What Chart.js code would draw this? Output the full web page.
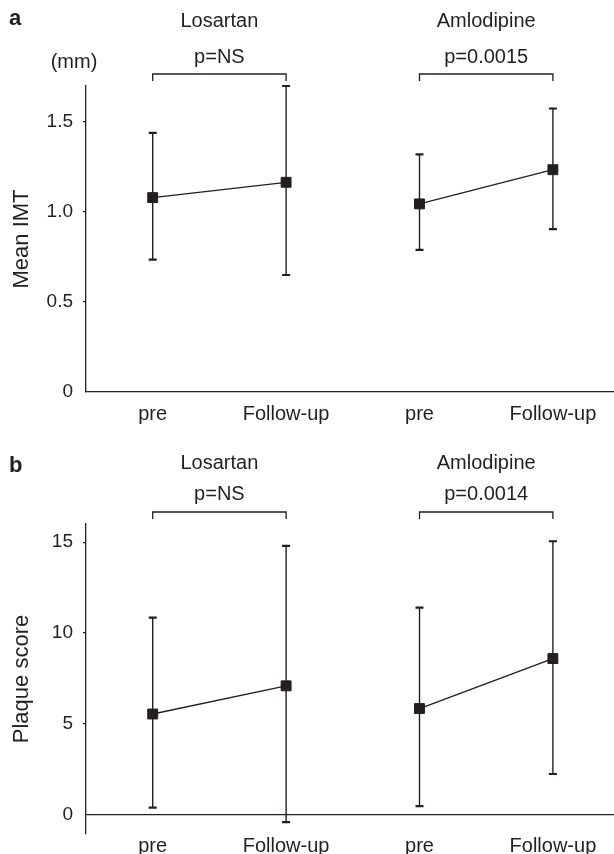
<!DOCTYPE html>
<html><head><meta charset="utf-8">
<script src="https://cdn.jsdelivr.net/npm/chart.js@4/dist/chart.umd.min.js"></script>
<style>
html,body{margin:0;padding:0;background:#fff;overflow:hidden}
#wrap{position:relative;width:614px;height:854px;background:#fff}
canvas{position:absolute;left:0}
</style></head><body>
<div id="wrap">
<canvas id="c1" width="614" height="427" style="top:0"></canvas>
<canvas id="c2" width="614" height="427" style="top:427px"></canvas>
</div>
<script>
// ---- data ----
const categories = ['pre', 'Follow-up', 'pre', 'Follow-up'];
const drugs = ['Losartan', 'Amlodipine'];

// Panel a: Mean IMT (mm)
const imtMean  = [1.08, 1.165, 1.045, 1.235];
const imtUpper = [1.44, 1.70, 1.32, 1.575];
const imtLower = [0.735, 0.65, 0.79, 0.905];
const imtP     = ['p=NS', 'p=0.0015'];
const imtTicks = [0, 0.5, 1.0, 1.5];

// Panel b: Plaque score
const plaqueMean  = [5.55, 7.1, 5.85, 8.6];
const plaqueUpper = [10.85, 14.8, 11.4, 15.05];
const plaqueLower = [0.4, -0.4, 0.48, 2.25];
const plaqueP     = ['p=NS', 'p=0.0014'];
const plaqueTicks = [0, 5, 10, 15];

// ---- styling ----
const INK = '#231f20';
const FONT = "'Liberation Sans', Arial, Helvetica, sans-serif";
Chart.defaults.font.family = FONT;
Chart.defaults.font.size = 20;
Chart.defaults.color = INK;

const errorBars = {
  id: 'errorBars',
  beforeDatasetsDraw(chart, args, opts) {
    const {ctx, scales: {x, y}} = chart;
    ctx.save();
    ctx.strokeStyle = INK;
    opts.upper.forEach((u, i) => {
      const px = x.getPixelForValue(i + 1);
      const yu = y.getPixelForValue(u);
      const yl = y.getPixelForValue(opts.lower[i]);
      ctx.lineWidth = 1.4;
      ctx.beginPath(); ctx.moveTo(px, yu); ctx.lineTo(px, yl); ctx.stroke();
      ctx.lineWidth = 2.2;
      ctx.beginPath();
      ctx.moveTo(px - 4, yu); ctx.lineTo(px + 4, yu);
      ctx.moveTo(px - 4, yl); ctx.lineTo(px + 4, yl);
      ctx.stroke();
    });
    ctx.restore();
  }
};

const annotations = {
  id: 'annotations',
  afterDraw(chart, args, o) {
    const {ctx, scales: {x}} = chart;
    ctx.save();
    ctx.fillStyle = INK;
    ctx.strokeStyle = INK;
    ctx.textBaseline = 'middle';
    ctx.font = 'bold 22px ' + FONT;
    ctx.textAlign = 'left';
    ctx.fillText(o.letter, 9, o.letterY);
    ctx.font = '20px ' + FONT;
    ctx.textAlign = 'center';
    drugs.forEach((d, g) => {
      const x1 = x.getPixelForValue(2 * g + 1);
      const x2 = x.getPixelForValue(2 * g + 2);
      const mid = (x1 + x2) / 2;
      ctx.fillText(d, mid, o.nameY);
      ctx.fillText(o.pvals[g], mid, o.pY);
      ctx.lineWidth = 1.3;
      ctx.beginPath();
      ctx.moveTo(x1, o.brY + 7); ctx.lineTo(x1, o.brY);
      ctx.lineTo(x2, o.brY); ctx.lineTo(x2, o.brY + 7);
      ctx.stroke();
    });
    if (o.unit) ctx.fillText(o.unit, 74, 62);
    ctx.restore();
  }
};

function makePanel(id, cfg) {
  const ds = drugs.map((d, g) => ({
    label: d,
    data: [0, 1].map(k => ({x: 2 * g + k + 1, y: cfg.mean[2 * g + k]})),
    borderColor: INK,
    backgroundColor: INK,
    borderWidth: 1.3,
    pointStyle: 'rect',
    pointRadius: 7,
    pointBorderWidth: 1,
    pointBackgroundColor: INK,
    pointBorderColor: INK,
    showLine: true,
    tension: 0
  }));
  return new Chart(document.getElementById(id), {
    type: 'scatter',
    data: {datasets: ds},
    plugins: [errorBars, annotations],
    options: {
      responsive: false,
      animation: false,
      layout: {autoPadding: false, padding: {left: 0, right: 0, top: cfg.top, bottom: 0}},
      plugins: {
        legend: {display: false},
        tooltip: {enabled: false},
        errorBars: {upper: cfg.upper, lower: cfg.lower},
        annotations: cfg.ann
      },
      scales: {
        x: {
          type: 'linear', min: 0.5, max: 4.458,
          afterFit(s) { s.height = cfg.xH; s.paddingLeft = 0; s.paddingRight = 0; },
          afterBuildTicks(s) { s.ticks = categories.map((c, i) => ({value: i + 1})); },
          ticks: {callback: v => categories[v - 1], padding: cfg.xPad, maxRotation: 0, autoSkip: false, font: {size: 20}},
          grid: {display: false, drawTicks: false},
          border: {display: cfg.xBorder, color: INK, width: 1.3}
        },
        y: {
          type: 'linear', min: cfg.min, max: cfg.max,
          afterFit(s) { s.width = 86; s.paddingTop = 0; s.paddingBottom = 0; },
          afterBuildTicks(s) { s.ticks = cfg.ticks.map(v => ({value: v})); },
          ticks: {callback: cfg.fmt, padding: 10, font: {size: 19}},
          title: {display: true, text: cfg.title, font: {size: 22}, padding: {top: 9, bottom: 0}},
          grid: {
            display: true,
            drawOnChartArea: cfg.zeroLine,
            drawTicks: true,
            tickLength: 3,
            lineWidth: 1.3,
            color: c => (c.tick && c.tick.value === 0) ? INK : 'rgba(0,0,0,0)',
            tickColor: c => (c.tick && c.tick.value === 0) ? 'rgba(0,0,0,0)' : INK,
            tickWidth: 1.2
          },
          border: {display: true, color: INK, width: 1.3}
        }
      }
    }
  });
}

makePanel('c1', {
  mean: imtMean, upper: imtUpper, lower: imtLower,
  ticks: imtTicks, min: 0, max: 1.7, fmt: v => v === 0 ? '0' : v.toFixed(1),
  title: 'Mean IMT', top: 86, xH: 35, xPad: 10, xBorder: true, zeroLine: false,
  ann: {letter: 'a', letterY: 19, nameY: 21, pY: 57, brY: 74, pvals: imtP, unit: '(mm)'}
});

makePanel('c2', {
  mean: plaqueMean, upper: plaqueUpper, lower: plaqueLower,
  ticks: plaqueTicks, min: -1.05, max: 16, fmt: v => String(v),
  title: 'Plaque score', top: 97, xH: 20, xPad: 0, xBorder: false, zeroLine: true,
  ann: {letter: 'b', letterY: 39, nameY: 36, pY: 67, brY: 85, pvals: plaqueP, unit: ''}
});
</script>
</body></html>
